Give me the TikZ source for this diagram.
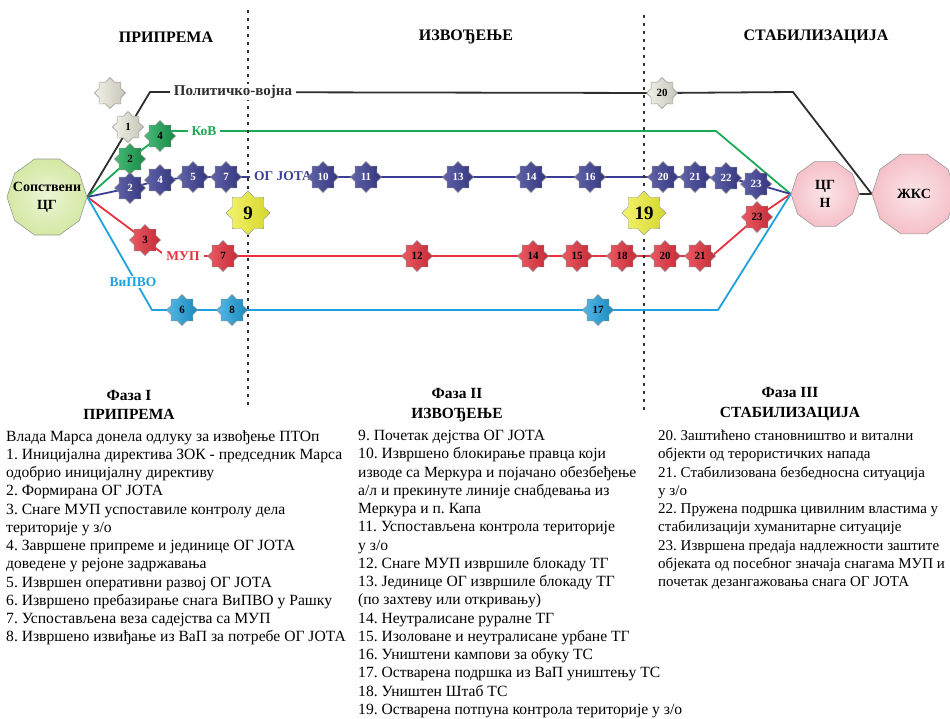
\documentclass[tikz,border=0pt]{standalone}
\usepackage{fontspec}
\setmainfont{Liberation Serif}
\usetikzlibrary{shapes.geometric,backgrounds}
\definecolor{darkc}{HTML}{2E2E2E}
\definecolor{greenc}{HTML}{1AAA55}
\definecolor{navyc}{HTML}{3B3E94}
\definecolor{redc}{HTML}{E6323E}
\definecolor{cyanc}{HTML}{1EA1DE}
\definecolor{beigec}{HTML}{EAE8D8}
\definecolor{yellowc}{HTML}{EEEE30}
\definecolor{polygreen}{HTML}{D4E8A4}
\definecolor{polypink}{HTML}{F5C0C8}
\newcommand{\zw}[1]{\makebox[0pt][c]{#1}}
\begin{document}
\frenchspacing
\begin{tikzpicture}[x=1pt,y=-1pt,
  stbase/.style={star, star points=8, star point ratio=1.31, minimum size=31pt, inner sep=0pt,
    draw=black!45, line width=0.4pt, font=\bfseries\fontsize{11}{11}\selectfont},
  stbeige/.style={stbase, left color=beigec!60!white, right color=beigec!85!black, text=black},
  stgreen/.style={stbase, left color=greenc!80!white, right color=greenc!80!black, text=black},
  stnavy/.style={stbase, left color=navyc!80!white, right color=navyc!85!black, text=white},
  stred/.style={stbase, left color=redc!80!white, right color=redc!85!black, text=black},
  stcyan/.style={stbase, left color=cyanc!75!white, right color=cyanc!85!black, text=black},
  stbig/.style={stbase, minimum size=44pt, left color=yellowc!70!white, right color=yellowc!90!black,
    draw=black!40, font=\bfseries\fontsize{19}{19}\selectfont},
  polyg/.style={regular polygon, regular polygon sides=10, inner sep=0pt, draw=black!40, line width=0.6pt,
    align=center, font=\bfseries\fontsize{14}{18}\selectfont},
  lbl/.style={fill=white, inner xsep=4pt, inner ysep=1pt, font=\bfseries\fontsize{13.5}{14}\selectfont},
  hdr/.style={font=\bfseries\fontsize{16}{16}\selectfont},
  phase/.style={font=\bfseries\fontsize{15.5}{19.5}\selectfont, align=center},
  listtxt/.style={align=left, anchor=north west, inner sep=0pt, font=\fontsize{15.6}{18.25}\selectfont},
  ln/.style={line width=1.8pt, line join=round},
  dashline/.style={line width=2.6pt, darkc, dash pattern=on 3pt off 5pt}
]
\useasboundingbox (0,0) rectangle (950,718);

% headers
\node[hdr] (h1) at (166,37) {ПРИПРЕМА};
\node[hdr] (h2) at (466,37) {ИЗВОЂЕЊЕ};
\node[hdr] (h3) at (816,37) {СТАБИЛИЗАЦИЈА};

% dashed separators
\coordinate (dA1) at (248,10);
\coordinate (dA2) at (248,406);
\coordinate (dB1) at (644,15);
\coordinate (dB2) at (644,412);
\draw[dashline] (dA1) -- (dA2);
\draw[dashline] (dB1) -- (dB2);

% main polygons
\node[polyg, minimum size=80pt, inner color=polygreen!45!white, outer color=polygreen] (src) at (47,197) {\zw{Сопствени}\\\zw{ЦГ}};
\node[polyg, minimum size=68pt, inner color=polypink!40!white, outer color=polypink] (cgn) at (825,194) {\zw{ЦГ}\\\zw{Н}};
\node[polyg, minimum size=84pt, inner color=polypink!40!white, outer color=polypink] (zks) at (914,194) {ЖКС};

% line labels
\node[lbl, text=darkc, font=\bfseries\fontsize{15}{15}\selectfont] (lpol) at (233,92) {Политичко-војна};
\node[lbl, text=greenc] (lkov) at (204,131) {КоВ};
\node[lbl, text=navyc] (logj) at (283,176) {ОГ ЈОТА};
\node[lbl, text=redc] (lmup) at (183,256) {МУП};
\node[lbl, text=cyanc] (lvip) at (133,282) {ВиПВО};

% stars: political-military
\node[stbeige] (b0) at (110,93) {};
\node[stbeige] (b1) at (128,127) {1};
\node[stbeige] (b20) at (662,93) {20};
% green
\node[stgreen] (g2) at (130,159) {2};
\node[stgreen] (g4) at (160,136) {4};
% navy
\node[stnavy] (n2) at (130,188) {2};
\node[stnavy] (n4) at (160,180) {4};
\node[stnavy] (n5) at (193,177) {5};
\node[stnavy] (n7) at (226,177) {7};
\node[stnavy] (n10) at (323,177) {10};
\node[stnavy] (n11) at (366,177) {11};
\node[stnavy] (n13) at (458,177) {13};
\node[stnavy] (n14) at (531,177) {14};
\node[stnavy] (n16) at (590,177) {16};
\node[stnavy] (n20) at (663,177) {20};
\node[stnavy] (n21) at (695,177) {21};
\node[stnavy] (n22) at (726,178) {22};
\node[stnavy] (n23) at (756,184) {23};
% red
\node[stred] (r3) at (145,240) {3};
\node[stred] (r7) at (223,256) {7};
\node[stred] (r12) at (417,256) {12};
\node[stred] (r14) at (533,256) {14};
\node[stred] (r15) at (577,256) {15};
\node[stred] (r18) at (622,256) {18};
\node[stred] (r20) at (665,256) {20};
\node[stred] (r21) at (700,256) {21};
\node[stred] (r23) at (757,217) {23};
% cyan
\node[stcyan] (c6) at (182,310) {6};
\node[stcyan] (c8) at (232,310) {8};
\node[stcyan] (c17) at (598,310) {17};
% yellow
\node[stbig] (y9) at (248,213) {9};
\node[stbig] (y19) at (644,213) {19};

% bend points
\coordinate (kb1) at (150,92);
\coordinate (kb2) at (793,92);
\coordinate (kg1) at (168,131);
\coordinate (kg2) at (716,131);
\coordinate (kr1) at (166,256);
\coordinate (kr2) at (712,256);
\coordinate (kc1) at (152,310);
\coordinate (kc2) at (718,310);

\begin{scope}[on background layer]
\draw[ln, darkc] (src.east) -- (kb1) -- (b20.center) -- (kb2) -- (zks.west);
\draw[ln, darkc] (cgn.east) -- (zks.west);
\draw[ln, greenc] (src.east) -- (g2.center) -- (g4.center) -- (kg1) -- (kg2) -- (cgn.west);
\draw[ln, navyc] (src.east) -- (n2.center) -- (n4.center) -- (n5.center) -- (n7.center) -- (n10.center)
  -- (n11.center) -- (n13.center) -- (n14.center) -- (n16.center) -- (n20.center) -- (n21.center)
  -- (n22.center) -- (n23.center) -- (cgn.west);
\draw[ln, redc] (src.east) -- (r3.center) -- (kr1) -- (r7.center) -- (r12.center) -- (r14.center)
  -- (r15.center) -- (r18.center) -- (r20.center) -- (r21.center) -- (kr2) -- (r23.center) -- (cgn.west);
\draw[ln, cyanc] (src.east) -- (kc1) -- (c6.center) -- (c8.center) -- (c17.center) -- (kc2) -- (cgn.west);
\end{scope}

% phase titles
\node[phase] (p1) at (129,405) {Фаза I\\ПРИПРЕМА};
\node[phase] (p2) at (457,405) {Фаза II\\ИЗВОЂЕЊЕ};
\node[phase] (p3) at (790,404) {Фаза III\\СТАБИЛИЗАЦИЈА};

% lists
\node[listtxt] (t1) at (6,430) {Влада Марса донела одлуку за извођење ПТОп\\
1. Иницијална директива ЗОК - председник Марса\\
одобрио иницијалну директиву\\
2. Формирана ОГ ЈОТА\\
3. Снаге МУП успоставиле контролу дела\\
територије у з/о\\
4. Завршене припреме и јединице ОГ ЈОТА\\
доведене у рејоне задржавања\\
5. Извршен оперативни развој ОГ ЈОТА\\
6. Извршено пребазирање снага ВиПВО у Рашку\\
7. Успостављена веза садејства са МУП\\
8. Извршено извиђање из ВаП за потребе ОГ ЈОТА};

\node[listtxt] (t2) at (358,430) {9. Почетак дејства ОГ ЈОТА\\
10. Извршено блокирање правца који\\
изводе са Меркура и појачано обезбеђење\\
а/л и прекинуте линије снабдевања из\\
Меркура и п. Капа\\
11. Успостављена контрола територије\\
у з/о\\
12. Снаге МУП извршиле блокаду ТГ\\
13. Јединице ОГ извршиле блокаду ТГ\\
(по захтеву или откривању)\\
14. Неутралисане руралне ТГ\\
15. Изоловане и неутралисане урбане ТГ\\
16. Уништени кампови за обуку ТС\\
17. Остварена подршка из ВаП уништењу ТС\\
18. Уништен Штаб ТС\\
19. Остварена потпуна контрола територије у з/о};

\node[listtxt, font=\fontsize{15}{18.25}\selectfont] (t3) at (658,430) {20. Заштићено становништво и витални\\
објекти од терористичких напада\\
21. Стабилизована безбедносна ситуација\\
у з/о\\
22. Пружена подршка цивилним властима у\\
стабилизацији хуманитарне ситуације\\
23. Извршена предаја надлежности заштите\\
објеката од посебног значаја снагама МУП и\\
почетак дезангажовања снага ОГ ЈОТА};
\end{tikzpicture}
\end{document}
